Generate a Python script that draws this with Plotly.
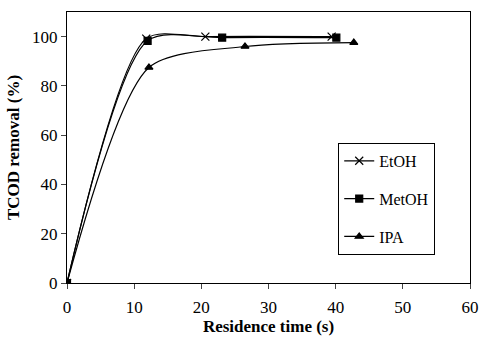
import plotly.graph_objects as go

etoh_x = [0, 11.8, 20.6, 39.4]
etoh_y = [0, 99.2, 100.0, 100.0]
metoh_x = [0, 12.0, 23.1, 40.1]
metoh_y = [0, 98.3, 99.6, 99.6]
ipa_x = [0, 12.2, 26.5, 42.7]
ipa_y = [0, 87.5, 96.0, 97.6]

x_ticks = [0, 10, 20, 30, 40, 50, 60]
y_ticks = [0, 20, 40, 60, 80, 100]

font = "Liberation Serif, Times New Roman, serif"
fig = go.Figure()
series = [
    ("EtOH", etoh_x, etoh_y, "x-thin-open", 8),
    ("MetOH", metoh_x, metoh_y, "square", 7),
    ("IPA", ipa_x, ipa_y, "triangle-up", 7),
]
for name, xs, ys, sym, sz in series:
    fig.add_trace(go.Scatter(
        x=xs, y=ys, name=name, mode="lines+markers", legendgroup=name,
        line=dict(color="black", width=1.2, shape="spline", smoothing=0.75),
        marker=dict(symbol=sym, size=sz, color="black",
                    line=dict(color="black", width=1.2)),
    ))

fig.update_layout(
    width=480, height=337,
    margin=dict(l=67, r=10, t=12, b=54),
    paper_bgcolor="white", plot_bgcolor="white",
    font=dict(family=font, size=17, color="black"),
    showlegend=True,
    legend=dict(x=0.673, y=0.517, xanchor="left", yanchor="top",
                bordercolor="black", borderwidth=1, bgcolor="white",
                font=dict(size=16), tracegroupgap=14, itemwidth=30),
)
fig.update_xaxes(range=[0, 60], tickvals=x_ticks, ticks="outside", ticklen=5,
                 ticklabelstandoff=4,
                 showline=True, linecolor="black", linewidth=1, mirror=True,
                 showgrid=False, zeroline=False, automargin=False,
                 title=dict(text="<b>Residence time (s)</b>", standoff=3,
                            font=dict(size=17)))
fig.update_yaxes(range=[0, 110], tickvals=y_ticks, ticks="outside", ticklen=5,
                 showline=True, linecolor="black", linewidth=1, mirror=True,
                 showgrid=False, zeroline=False, automargin=False,
                 title=dict(text="<b>TCOD removal (%)</b>", standoff=8,
                            font=dict(size=17)))

fig.write_html("out.html", config={"displayModeBar": False},
               post_script="document.body.style.margin='0';document.body.style.overflow='hidden';")
